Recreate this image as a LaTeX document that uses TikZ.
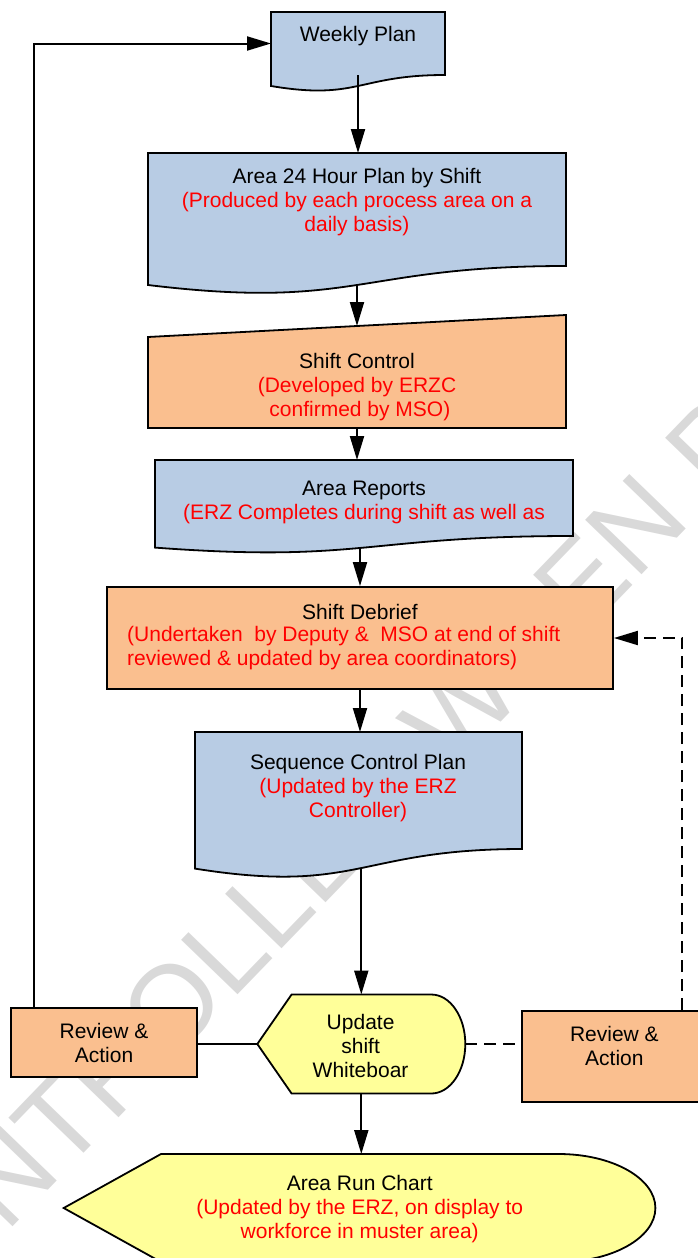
\documentclass[tikz,border=0pt]{standalone}
\usepackage{fontspec}
\setmainfont{Liberation Sans}
\usetikzlibrary{arrows.meta,calc}

\definecolor{planblue}{RGB}{184,204,228}
\definecolor{peach}{RGB}{250,191,143}
\definecolor{paleyellow}{RGB}{255,255,153}
\definecolor{notered}{RGB}{255,0,0}
\definecolor{markgray}{RGB}{217,217,217}

% Document shape: name, left, right, top, y of right bottom corner, wave drop, fill
\newcommand\docshape[7]{%
  \node[region, minimum width={(#3-#2)*1pt}, minimum height={(#5-#4)*1pt}]
    (#1) at ({(#2+#3)/2},{(#4+#5)/2}) {};
  \draw[outline, fill=#7] (#2,#4) -- (#3,#4) -- (#3,#5)
    .. controls ({(#2+#3)/2},#5) and ({(#2+#3)/2},{#5+2.333*#6}) .. (#2,{#5+#6})
    -- cycle;
  \coordinate (#1 wave) at ({(#2+#3)/2},{#5+#6});
}

\begin{document}
\begin{tikzpicture}[x=1pt,y=-1pt,
  region/.style={draw=none, inner sep=0pt, outer sep=0pt},
  outline/.style={draw=black, line width=1.8pt, line join=miter},
  caption/.style={inner sep=0pt, align=center, font=\fontsize{21}{24}\selectfont},
  flow/.style={line width=2pt, -{Triangle[length=24pt,width=14pt]}},
  plainlink/.style={line width=2pt},
  dashlink/.style={line width=2pt, dash pattern=on 12pt off 7pt},
]
\useasboundingbox (0,0) rectangle (698,1258);
\clip (0,0) rectangle (698,1258);

% watermark behind everything
\node[rotate=46, text=markgray, inner sep=0pt, font=\fontsize{114}{114}\selectfont]
  (watermark) at (390,780) {UNCONTROLLED WHEN PRINTED};

% Weekly plan
\docshape{wp}{271}{445}{12}{75}{11}{planblue}
\node[caption] (wp text) at (358,36.5) {Weekly Plan};

% Area 24 hour plan
\docshape{a24}{148}{566}{153}{266}{19}{planblue}
\node[caption] (a24 text) at (357,202.5) {Area 24 Hour Plan by Shift\\
  \textcolor{notered}{(Produced by each process area on a}\\
  \textcolor{notered}{daily basis)}};

% Shift control (manual input)
\node[region, minimum width=418pt, minimum height=102pt] (sc) at (357,377) {};
\draw[outline, fill=peach] (148,337) -- (566,315) -- (566,428) -- (148,428) -- cycle;
\node[caption] (sc text) at (357,387) {Shift Control\\
  \textcolor{notered}{(Developed by ERZC}\\
  \textcolor{notered}{\hspace*{5.8pt}confirmed by MSO)}};

% Area reports
\docshape{ar}{155}{573}{460}{536}{11.6}{planblue}
\node[caption] (ar text) at (364,502.3) {Area Reports\\
  \textcolor{notered}{(ERZ Completes during shift as well as}};

% Shift debrief
\node[outline, fill=peach, inner sep=0pt, minimum width=506pt, minimum height=102pt]
  (sd) at (360,638) {};
\node[caption] (sd title) at (360,612) {Shift Debrief};
\node[caption, align=left, anchor=west, text=notered] (sd text) at (127,648)
  {(Undertaken\ \ by Deputy \&\ \ MSO at end of shift\\
   reviewed \& updated by area coordinators)};

% Sequence control plan
\docshape{scp}{195}{522}{732}{849}{19.6}{planblue}
\node[caption] (scp text) at (358,787.7) {Sequence Control Plan\\
  \textcolor{notered}{(Updated by the ERZ}\\
  \textcolor{notered}{Controller)}};

% Update shift whiteboard (display)
\node[region, minimum width=208pt, minimum height=99pt] (wb) at (361.3,1044) {};
\draw[outline, fill=paleyellow] (257.3,1044) -- (291.6,994.5) -- (431.3,994.5)
  arc[start angle=-90, end angle=90, x radius=34, y radius=49.5]
  -- (291.6,1093.5) -- cycle;
\node[caption] (wb text) at (360.6,1046) {Update\\shift\\Whiteboar};

% Area run chart (display)
\node[region, minimum width=591.7pt, minimum height=108pt] (rc) at (359.5,1208) {};
\draw[outline, fill=paleyellow] (63.7,1208) -- (161,1154) -- (558.8,1154)
  arc[start angle=-90, end angle=90, x radius=96.6, y radius=54]
  -- (161,1262) -- cycle;
\node[caption] (rc text) at (359.7,1209.5) {Area Run Chart\\
  \textcolor{notered}{(Updated by the ERZ, on display to}\\
  \textcolor{notered}{workforce in muster area)}};

% Review & action boxes
\node[outline, fill=peach, caption, minimum width=186pt, minimum height=68.4pt]
  (rvl) at (104,1042.5) {Review \&\\Action};
\node[outline, fill=peach, inner sep=0pt, minimum width=185.2pt, minimum height=90.7pt]
  (rvr) at (614.4,1056.4) {};
\node[caption] (rvr text) at (614.4,1046) {Review \&\\Action};

% connectors
\draw[flow] (wp.south) -- (wp.south |- a24.north);
\draw[flow] (a24 wave) -- (sc.north);
\draw[flow] (sc.south) -- (sc.south |- ar.north);
\draw[flow] (sd.north |- ar wave) -- (sd.north);
\draw[flow] (sd.south) -- (sd.south |- scp.north);
\draw[flow] (wb.north |- scp wave) -- (wb.north);
\draw[flow] (wb.south) -- (wb.south |- rc.north);
\draw[plainlink] (wb.west -| rvl.east) -- (wb.west);
\draw[flow] ([xshift=23.7pt]rvl.north west) |- (wp.west);
\draw[dashlink] (wb.east) -- (wb.east -| rvr.west);
\draw[dashlink, -{Triangle[length=24pt,width=14pt]}] ([xshift=68pt]rvr.north) |- (sd.east);
\end{tikzpicture}
\end{document}
